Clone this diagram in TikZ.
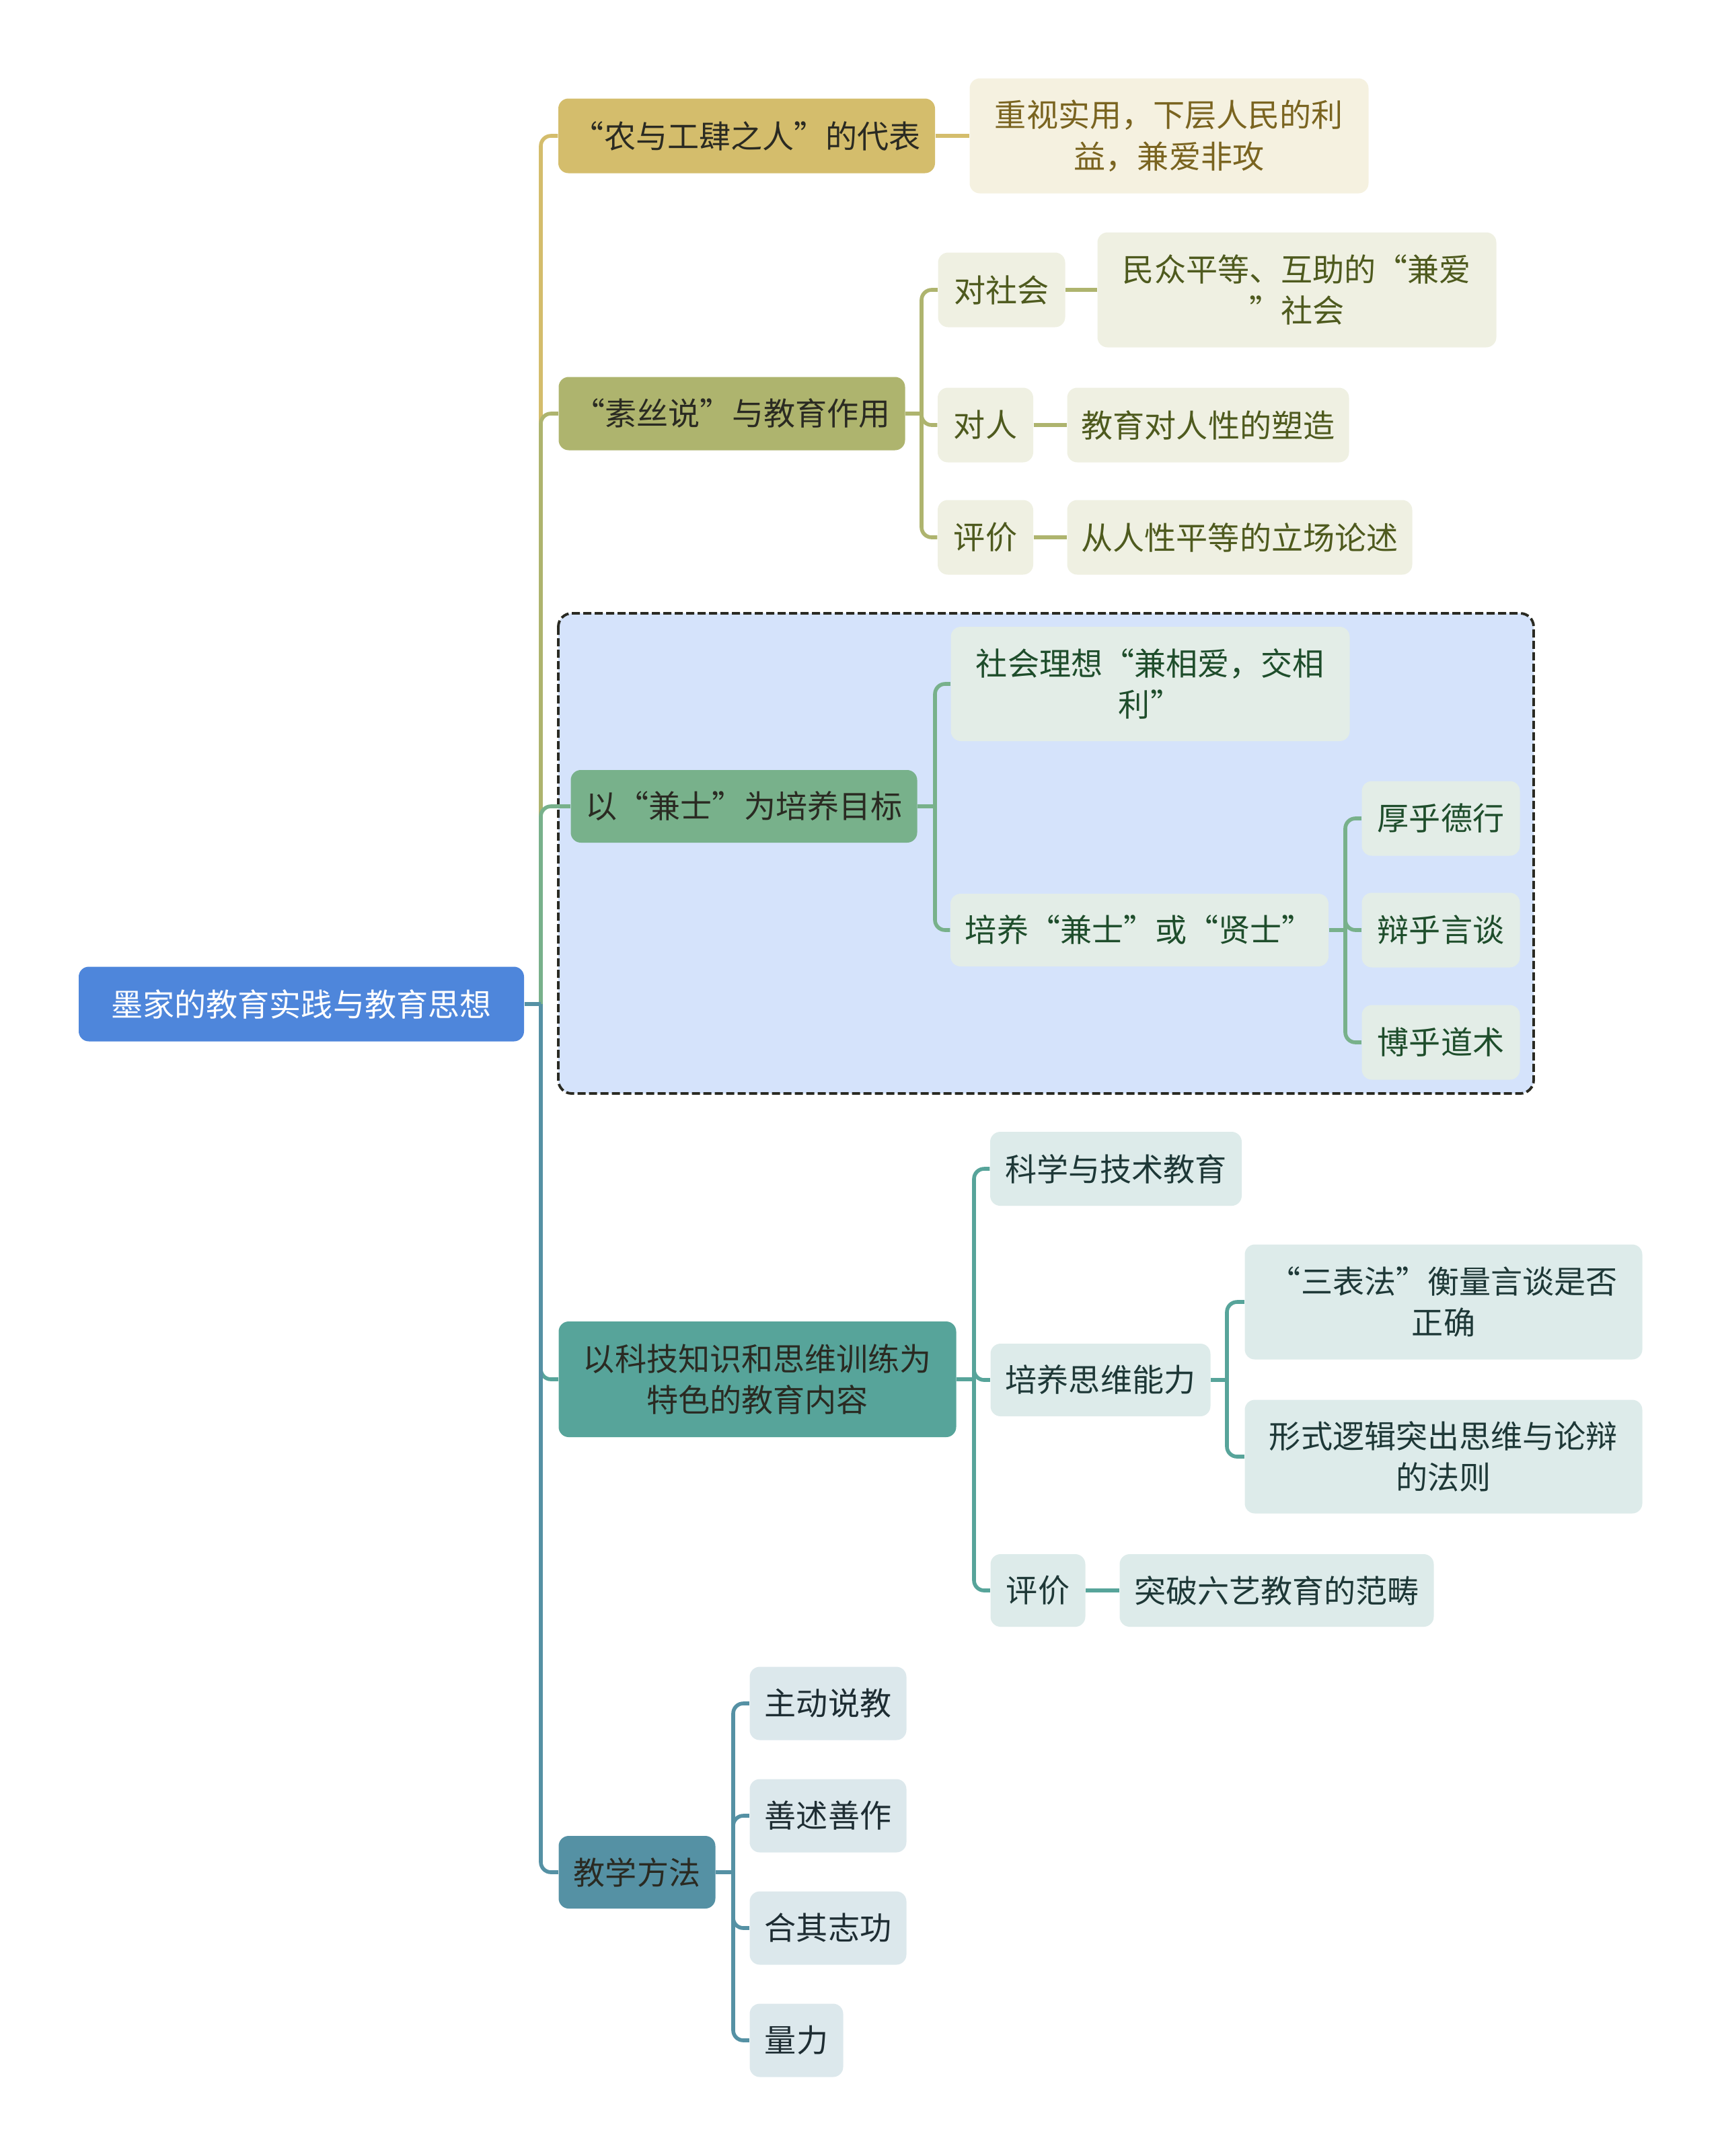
\documentclass[tikz,border=0pt]{standalone}
\usepackage{fontspec}
\usepackage{xcolor}
\usetikzlibrary{positioning}
\newfontfamily\cjk{Noto Sans CJK SC}

\definecolor{rootfill}{HTML}{4E86DB}
\definecolor{goldfill}{HTML}{D4BD6C}
\definecolor{goldlight}{HTML}{F5F1E0}
\definecolor{goldtext}{HTML}{7A6420}
\definecolor{olivefill}{HTML}{AEB46E}
\definecolor{olivelight}{HTML}{EFF0E2}
\definecolor{olivetext}{HTML}{4E5A1E}
\definecolor{greenfill}{HTML}{78B18B}
\definecolor{greenlight}{HTML}{E3EDE7}
\definecolor{greentext}{HTML}{1E4D2B}
\definecolor{tealfill}{HTML}{57A49A}
\definecolor{teallight}{HTML}{DDEBEA}
\definecolor{tealtext}{HTML}{1E3837}
\definecolor{bluefill}{HTML}{5591A4}
\definecolor{bluelight}{HTML}{DCE8EC}
\definecolor{bluetext}{HTML}{1E2D33}
\definecolor{groupfill}{HTML}{D5E3FB}
\definecolor{darktext}{HTML}{2A2A22}

\tikzset{
  box/.style={rectangle,rounded corners=0.15cm,inner sep=0pt,align=center,
    font=\cjk\fontsize{13.4}{17.4}\selectfont},
  topic/.style={box,text=darktext},
  link/.style={line width=1.6pt,rounded corners=0.15cm},
}

\begin{document}
\begin{tikzpicture}
\useasboundingbox (0,0) rectangle (25.6,-32.06);

% Dashed group round the third branch
\draw[fill=groupfill,draw=darktext,line width=1.1pt,dash pattern=on 0.12cm off 0.05cm,rounded corners=0.2cm]
  (8.30,-9.12) rectangle (22.80,-16.26);

% Root
\node[box,fill=rootfill,text=white,minimum width=6.62cm,minimum height=1.11cm] (root) at (4.48,-14.93) {墨家的教育实践与教育思想};
\coordinate (rootj) at (8.04,-14.93);

% Branch 1
\node[topic,fill=goldfill,minimum width=5.60cm,minimum height=1.11cm] (n1) at (11.10,-2.02) {“农与工肆之人”的代表};
\node[box,fill=goldlight,text=goldtext,minimum width=5.93cm,minimum height=1.71cm] (n1a) at (17.38,-2.02) {重视实用，下层人民的利\\益，兼爱非攻};

% Branch 2
\node[topic,fill=olivefill,minimum width=5.15cm,minimum height=1.09cm] (n2) at (10.88,-6.15) {“素丝说”与教育作用};
\node[box,fill=olivelight,text=olivetext,minimum width=1.89cm,minimum height=1.11cm] (n2a) at (14.89,-4.31) {对社会};
\node[box,fill=olivelight,text=olivetext,minimum width=5.93cm,minimum height=1.71cm] (n2a1) at (19.28,-4.31) {民众平等、互助的“兼爱\\”社会};
\node[box,fill=olivelight,text=olivetext,minimum width=1.42cm,minimum height=1.11cm] (n2b) at (14.65,-6.32) {对人};
\node[box,fill=olivelight,text=olivetext,minimum width=4.19cm,minimum height=1.11cm] (n2b1) at (17.96,-6.32) {教育对人性的塑造};
\node[box,fill=olivelight,text=olivetext,minimum width=1.42cm,minimum height=1.11cm] (n2c) at (14.65,-7.99) {评价};
\node[box,fill=olivelight,text=olivetext,minimum width=5.13cm,minimum height=1.11cm] (n2c1) at (18.43,-7.99) {从人性平等的立场论述};
\coordinate (n2j) at (13.70,-6.15);

% Branch 3
\node[topic,fill=greenfill,minimum width=5.15cm,minimum height=1.08cm] (n3) at (11.06,-11.99) {以“兼士”为培养目标};
\node[box,fill=greenlight,text=greentext,minimum width=5.93cm,minimum height=1.70cm] (n3a) at (17.10,-10.17) {社会理想“兼相爱，交相\\利”};
\node[box,fill=greenlight,text=greentext,minimum width=5.62cm,minimum height=1.08cm] (n3b) at (16.94,-13.83) {培养“兼士”或“贤士”};
\node[box,fill=greenlight,text=greentext,minimum width=2.35cm,minimum height=1.11cm] (n3b1) at (21.42,-12.17) {厚乎德行};
\node[box,fill=greenlight,text=greentext,minimum width=2.35cm,minimum height=1.11cm] (n3b2) at (21.42,-13.83) {辩乎言谈};
\node[box,fill=greenlight,text=greentext,minimum width=2.35cm,minimum height=1.11cm] (n3b3) at (21.42,-15.50) {博乎道术};
\coordinate (n3j) at (13.90,-11.99);
\coordinate (n3bj) at (20.00,-13.83);

% Branch 4
\node[topic,fill=tealfill,minimum width=5.91cm,minimum height=1.72cm] (n4) at (11.26,-20.51) {以科技知识和思维训练为\\特色的教育内容};
\node[box,fill=teallight,text=tealtext,minimum width=3.74cm,minimum height=1.10cm] (n4a) at (16.59,-17.38) {科学与技术教育};
\node[box,fill=teallight,text=tealtext,minimum width=3.27cm,minimum height=1.08cm] (n4b) at (16.36,-20.52) {培养思维能力};
\node[box,fill=teallight,text=tealtext,minimum width=5.91cm,minimum height=1.71cm] (n4b1) at (21.46,-19.36) {“三表法”衡量言谈是否\\正确};
\node[box,fill=teallight,text=tealtext,minimum width=5.91cm,minimum height=1.69cm] (n4b2) at (21.46,-21.66) {形式逻辑突出思维与论辩\\的法则};
\node[box,fill=teallight,text=tealtext,minimum width=1.41cm,minimum height=1.08cm] (n4c) at (15.43,-23.65) {评价};
\node[box,fill=teallight,text=tealtext,minimum width=4.67cm,minimum height=1.08cm] (n4c1) at (18.98,-23.65) {突破六艺教育的范畴};
\coordinate (n4j) at (14.48,-20.51);
\coordinate (n4bj) at (18.24,-20.52);

% Branch 5
\node[topic,fill=bluefill,minimum width=2.33cm,minimum height=1.08cm] (n5) at (9.47,-27.84) {教学方法};
\node[box,fill=bluelight,text=bluetext,minimum width=2.33cm,minimum height=1.09cm] (n5a) at (12.31,-25.33) {主动说教};
\node[box,fill=bluelight,text=bluetext,minimum width=2.33cm,minimum height=1.09cm] (n5b) at (12.31,-27.00) {善述善作};
\node[box,fill=bluelight,text=bluetext,minimum width=2.33cm,minimum height=1.09cm] (n5c) at (12.31,-28.67) {合其志功};
\node[box,fill=bluelight,text=bluetext,minimum width=1.39cm,minimum height=1.09cm] (n5d) at (11.84,-30.34) {量力};
\coordinate (n5j) at (10.90,-27.84);

% Connectors from the root
\draw[link,draw=goldfill] (rootj) |- (n1.west);
\draw[link,draw=olivefill] (rootj) |- (n2.west);
\draw[link,draw=greenfill] (rootj) |- (n3.west);
\draw[link,draw=tealfill] (rootj) |- (n4.west);
\draw[link,draw=bluefill] (rootj) |- (n5.west);
\draw[link,draw=bluefill] (root.east) -- (rootj);

% Second level
\draw[link,draw=goldfill] (n1.east) -- (n1a.west);
\draw[link,draw=olivefill] (n2.east) -- (n2j);
\foreach \k in {n2a,n2b,n2c} \draw[link,draw=olivefill] (n2j) |- (\k.west);
\draw[link,draw=olivefill] (n2a.east) -- (n2a1.west);
\draw[link,draw=olivefill] (n2b.east) -- (n2b1.west);
\draw[link,draw=olivefill] (n2c.east) -- (n2c1.west);

\draw[link,draw=greenfill] (n3.east) -- (n3j);
\foreach \k in {n3a,n3b} \draw[link,draw=greenfill] (n3j) |- (\k.west);
\draw[link,draw=greenfill] (n3b.east) -- (n3bj);
\foreach \k in {n3b1,n3b2,n3b3} \draw[link,draw=greenfill] (n3bj) |- (\k.west);

\draw[link,draw=tealfill] (n4.east) -- (n4j);
\foreach \k in {n4a,n4b,n4c} \draw[link,draw=tealfill] (n4j) |- (\k.west);
\draw[link,draw=tealfill] (n4b.east) -- (n4bj);
\foreach \k in {n4b1,n4b2} \draw[link,draw=tealfill] (n4bj) |- (\k.west);
\draw[link,draw=tealfill] (n4c.east) -- (n4c1.west);

\draw[link,draw=bluefill] (n5.east) -- (n5j);
\foreach \k in {n5a,n5b,n5c,n5d} \draw[link,draw=bluefill] (n5j) |- (\k.west);
\end{tikzpicture}
\end{document}
